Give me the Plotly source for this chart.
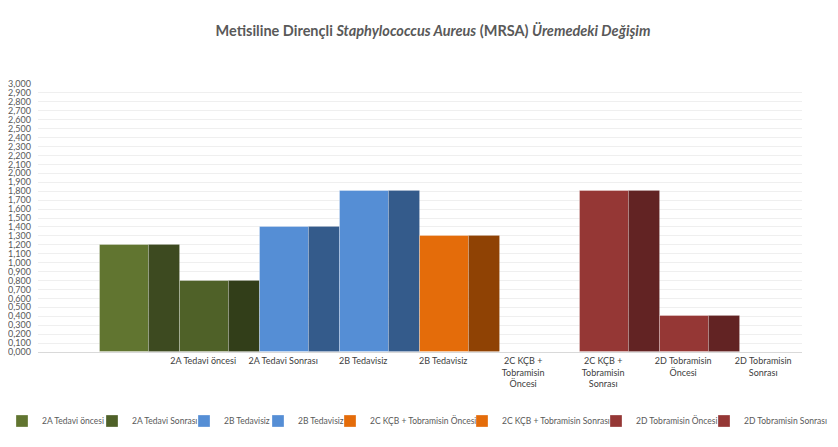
import plotly.graph_objects as go

# ---- data ----
series_names = [
    "2A Tedavi öncesi", "2A Tedavi Sonrası", "2B Tedavisiz", "2B Tedavisiz",
    "2C KÇB + Tobramisin Öncesi", "2C KÇB + Tobramisin Sonrası",
    "2D Tobramisin Öncesi", "2D Tobramisin Sonrası",
]
series_values = [1.2, 0.8, 1.4, 1.8, 1.3, 0.0, 1.8, 0.4]
category_labels = [
    "2A Tedavi öncesi", "2A Tedavi Sonrası", "2B Tedavisiz", "2B Tedavisiz",
    "2C KÇB +<br>Tobramisin<br>Öncesi", "2C KÇB +<br>Tobramisin<br>Sonrası",
    "2D Tobramisin<br>Öncesi", "2D Tobramisin<br>Sonrası",
]

# ---- styles ----
front_colors = ["#617530", "#4f6128", "#558ed5", "#558ed5",
                "#e46c0a", "#e46c0a", "#953735", "#953735"]
side_colors = ["#3d4a20", "#323e19", "#345b8b", "#345b8b",
               "#8f4204", "#8f4204", "#622323", "#622323"]
legend_text_px = [50, 140, 232, 306, 378, 510, 644, 752]   # window px of legend text starts

BODY = 8                      # default page body margin
WIN_W, WIN_H = 838, 447
W, H = WIN_W - BODY, WIN_H - BODY
# plot area in window pixels
PL, PR, PT, PB = 38, 802, 84, 352
FRONT_W = 0.61
LABEL_SHIFT = 0.79
FONT = "Lato, 'Open Sans', sans-serif"
GREY = "#595959"

fig = go.Figure()
positions = list(range(len(series_values)))
for i, (name, val) in enumerate(zip(series_names, series_values)):
    leg = "legend" if i == 0 else f"legend{i+1}"
    fig.add_trace(go.Bar(
        x=[positions[i]], y=[val], name=name,
        width=[FRONT_W], offset=-0.5,
        marker=dict(color=front_colors[i],
                    line=dict(color="rgba(255,255,255,0.3)", width=1)),
        legend=leg, legendgroup=f"g{i}", showlegend=True,
        hoverinfo="name+y",
    ))
    fig.add_trace(go.Bar(
        x=[positions[i]], y=[val], name=name,
        width=[1 - FRONT_W], offset=-0.5 + FRONT_W,
        marker=dict(color=side_colors[i],
                    line=dict(color="rgba(255,255,255,0.15)", width=1)),
        legend=leg, legendgroup=f"g{i}", showlegend=False,
        hoverinfo="name+y",
    ))

plot_w = PR - PL
plot_h = PB - PT
legend_y = -(421 - PB) / plot_h
legends = {}
for i, tx in enumerate(legend_text_px):
    key = "legend" if i == 0 else f"legend{i+1}"
    legends[key] = dict(
        x=(tx - 48 - PL) / plot_w, xanchor="left",
        y=legend_y, yanchor="middle", orientation="h",
        font=dict(family=FONT, size=8.5, color=GREY),
        bgcolor="rgba(0,0,0,0)", itemwidth=30, tracegroupgap=0,
    )

fig.update_layout(
    width=W, height=H,
    margin=dict(l=PL - BODY, r=WIN_W - PR, t=PT - BODY, b=WIN_H - PB, pad=0,
                autoexpand=False),
    paper_bgcolor="white", plot_bgcolor="white",
    barmode="overlay", bargap=0,
    separators=",.",
    title=dict(
        text="Metisiline Dirençli <i>Staphylococcus Aureus</i> (MRSA) <i>Üremedeki Değişim</i>",
        x=(433 - BODY) / W, xanchor="center", xref="container",
        y=1 - (31 - BODY) / H, yanchor="middle", yref="container",
        font=dict(family=FONT, size=14.5, color=GREY, weight="bold"),
    ),
    font=dict(family=FONT, size=9, color=GREY),
    **legends,
)
fig.update_xaxes(
    range=[-1.275, 8.275],
    tickvals=[p + LABEL_SHIFT for p in positions],
    ticktext=category_labels,
    showgrid=False, zeroline=False,
    showline=True, linecolor="#d9d9d9", linewidth=1,
    ticks="", tickfont=dict(family=FONT, size=9, color="#404040"),
    fixedrange=True,
)
fig.update_yaxes(
    range=[0, 3.0], dtick=0.1, tick0=0, tickformat=".3f",
    showgrid=True, gridcolor="#efefef", gridwidth=1,
    zeroline=False, showline=False,
    ticks="", ticklabelstandoff=6,
    tickfont=dict(family=FONT, size=9, color=GREY),
    fixedrange=True,
)

fig.write_html("out.html")
